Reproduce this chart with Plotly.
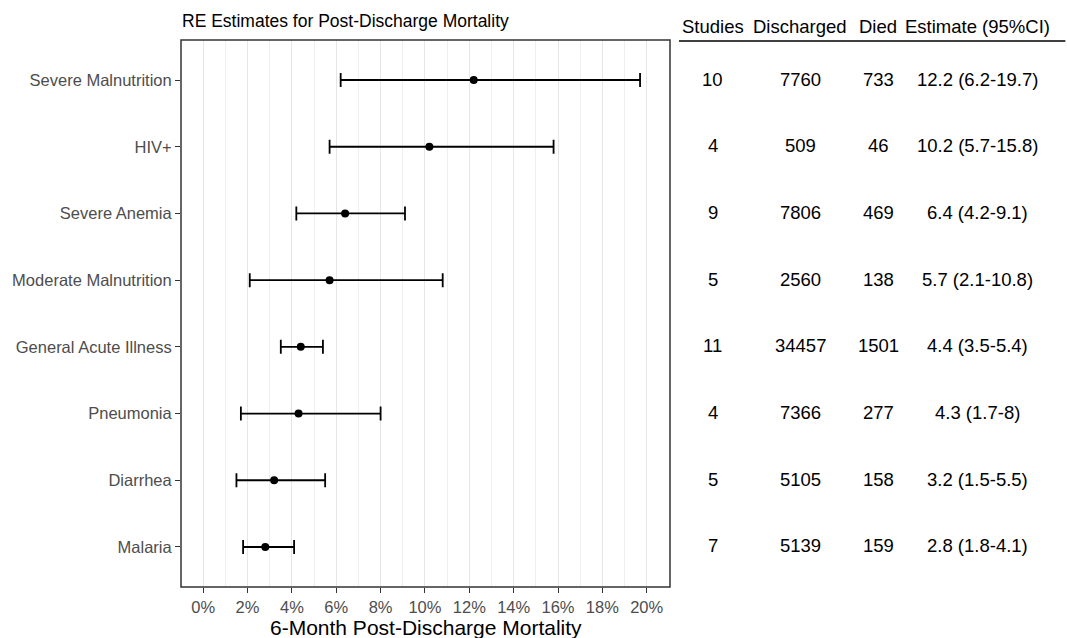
import plotly.graph_objects as go

categories = ["Severe Malnutrition", "HIV+", "Severe Anemia", "Moderate Malnutrition",
              "General Acute Illness", "Pneumonia", "Diarrhea", "Malaria"]
estimate = [12.2, 10.2, 6.4, 5.7, 4.4, 4.3, 3.2, 2.8]
lower = [6.2, 5.7, 4.2, 2.1, 3.5, 1.7, 1.5, 1.8]
upper = [19.7, 15.8, 9.1, 10.8, 5.4, 8.0, 5.5, 4.1]
studies = [10, 4, 9, 5, 11, 4, 5, 7]
discharged = [7760, 509, 7806, 2560, 34457, 7366, 5105, 5139]
died = [733, 46, 469, 138, 1501, 277, 158, 159]
est_labels = ["12.2 (6.2-19.7)", "10.2 (5.7-15.8)", "6.4 (4.2-9.1)", "5.7 (2.1-10.8)",
              "4.4 (3.5-5.4)", "4.3 (1.7-8)", "3.2 (1.5-5.5)", "2.8 (1.8-4.1)"]
headers = ["Studies", "Discharged", "Died", "Estimate (95%CI)"]
xticks = list(range(0, 21, 2))

est = [v / 100 for v in estimate]
lo = [v / 100 for v in lower]
hi = [v / 100 for v in upper]
ypos = list(range(len(categories), 0, -1))

FONT = "Arial, Liberation Sans, sans-serif"

fig = go.Figure()
fig.add_trace(go.Scatter(
    x=est, y=ypos, mode="markers",
    marker=dict(color="black", size=8),
    error_x=dict(type="data", symmetric=False,
                 array=[h - e for h, e in zip(hi, est)],
                 arrayminus=[e - l for e, l in zip(est, lo)],
                 color="black", thickness=1.8, width=7),
    showlegend=False, hoverinfo="skip"))

L, R, T, B = 179, 670, 40, 587
W, H = 1067, 638
pw = R - L
ph = B - T

def px(xpix):
    return (xpix - L) / pw

def py(ypix):
    return (B - ypix) / ph

annotations = []
col_x = [713, 801, 879, 979]
for hx, h in zip(col_x, headers):
    annotations.append(dict(x=px(hx), y=py(27), xref="paper", yref="paper", text=h,
                            showarrow=False, xanchor="center", yanchor="middle",
                            font=dict(family=FONT, size=18.5, color="black")))
cols = [[str(s) for s in studies], [str(d) for d in discharged], [str(d) for d in died], est_labels]
for cx, col in zip(col_x, cols):
    for yy, t in zip(ypos, col):
        annotations.append(dict(x=px(cx), y=yy, xref="paper", yref="y", text=t,
                                showarrow=False, xanchor="center", yanchor="middle", yshift=1,
                                font=dict(family=FONT, size=18.5, color="black")))
annotations.append(dict(x=px(178), y=py(21), xref="paper", yref="paper",
                        text="RE Estimates for Post-Discharge Mortality",
                        showarrow=False, xanchor="left", yanchor="middle",
                        font=dict(family=FONT, size=17.5, color="black")))
annotations.append(dict(x=0.5, y=py(627), xref="paper", yref="paper",
                        text="6-Month Post-Discharge Mortality",
                        showarrow=False, xanchor="center", yanchor="middle",
                        font=dict(family=FONT, size=21, color="black")))

fig.update_layout(
    width=W, height=H,
    margin=dict(l=L, r=W - R, t=T, b=H - B),
    plot_bgcolor="white", paper_bgcolor="white",
    font=dict(family=FONT, color="#4d4d4d"),
    annotations=annotations,
    shapes=[dict(type="line", xref="paper", yref="paper", x0=px(679), x1=px(1067), y0=py(41), y1=py(41),
                 line=dict(color="black", width=1.5)),
            dict(type="rect", xref="paper", yref="paper", x0=0, x1=1, y0=0, y1=1,
                 line=dict(color="#333333", width=1.5))],
    xaxis=dict(range=[-0.01, 0.2105], tickvals=[v / 100 for v in xticks],
               ticktext=[f"{v}%" for v in xticks],
               showgrid=True, gridcolor="#e6e6e6", gridwidth=1.2,
               minor=dict(tickvals=[v / 100 for v in range(1, 21, 2)], showgrid=True,
                          gridcolor="#efefef", gridwidth=1, ticks=""),
               zeroline=False, ticks="outside", ticklen=5, tickcolor="#333333",
               tickfont=dict(size=16.5, color="#4d4d4d"),
               showline=False),
    yaxis=dict(range=[0.4, 8.6], tickvals=ypos, ticktext=categories,
               showgrid=False, zeroline=False, ticks="outside", ticklen=5, tickcolor="#333333",
               tickfont=dict(size=16.5, color="#4d4d4d"), showline=False),
)

fig.write_html("out.html", config={"displayModeBar": False},
               post_script="document.body.style.margin='0';document.body.style.overflow='hidden';")
